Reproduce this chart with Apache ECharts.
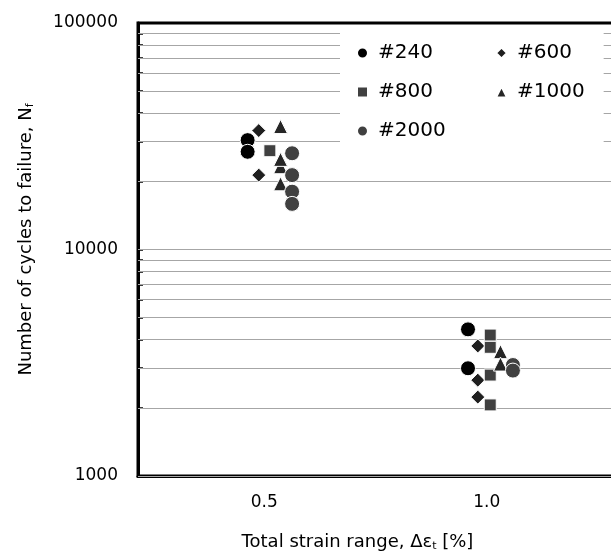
<!DOCTYPE html>
<html>
<head>
<meta charset="utf-8">
<script src="https://cdn.jsdelivr.net/npm/echarts@6/dist/echarts.min.js"></script>
<style>
html,body{margin:0;padding:0;background:#fff;}
#chart{width:611px;height:556px;}
</style>
</head>
<body>
<div id="chart"></div>
<script>
// grit sizes (legend names)
const grits = ['#240', '#600', '#800', '#1000', '#2000'];
// strain range [%] / cycles to failure
const s240 = [0.4625, 0.4625, 0.958, 0.958];
const n240 = [30400, 27000, 4440, 2990];
const s600 = [0.4875, 0.4875, 0.98, 0.98, 0.98];
const n600 = [33500, 21300, 3750, 2650, 2230];
const s800 = [0.5125, 1.008, 1.008, 1.008, 1.008];
const n800 = [27300, 4190, 3700, 2790, 2060];
const s1000 = [0.5365, 0.5365, 0.5365, 0.5365, 1.031, 1.031];
const n1000 = [34900, 23200, 25000, 19500, 3540, 3120];
const s2000 = [0.5625, 0.5625, 0.5625, 0.5625, 1.059, 1.059];
const n2000 = [26600, 21300, 18000, 15900, 3090, 2920];
// axis ticks
const xTicks = [0.5, 1.0];
const yTicks = [1000, 10000, 100000];
const gridVals = [1000, 2000, 3000, 4000, 5000, 6000, 7000, 8000, 9000,
  10000, 20000, 30000, 40000, 50000, 60000, 70000, 80000, 90000];

const font = 'DejaVu Sans';
const colors = ['#000000', '#1f1f1f', '#404040', '#262626', '#404040'];
const symbols = ['circle', 'diamond', 'rect', 'triangle', 'circle'];
const sizes = [15, 14, 12, 14, 15];
const xs = [s240, s600, s800, s1000, s2000];
const ys = [n240, n600, n800, n1000, n2000];

let chart = echarts.init(document.getElementById('chart'));

let series = grits.map((g, k) => ({
  name: g,
  type: 'scatter',
  symbol: symbols[k],
  symbolSize: sizes[k],
  itemStyle: { color: colors[k], borderColor: '#fff', borderWidth: 1, opacity: 1 },
  data: xs[k].map((x, i) => [x, ys[k][i]]),
  animation: false
}));

// horizontal gridlines at every 1..9 x 10^n
series[0].markLine = {
  silent: true,
  z: 1,
  symbol: 'none',
  animation: false,
  label: { show: false },
  emphasis: { disabled: true },
  lineStyle: { color: '#a6a6a6', width: 1, type: 'solid' },
  data: gridVals.map(v => ({ yAxis: v }))
};

const legendBase = {
  orient: 'vertical',
  itemWidth: 11,
  itemHeight: 11,
  itemGap: 19,
  textStyle: { fontFamily: font, fontSize: 20, color: '#000', lineHeight: 20, padding: [0, 0, 0, 5] }
};

chart.setOption({
  animation: false,
  grid: {
    left: 138, top: 23, right: -10, bottom: 80,
    show: true, borderColor: '#000', borderWidth: 3,
    outerBoundsMode: 'none'
  },
  legend: [
    Object.assign({}, legendBase, {
      data: ['#240', '#800', '#2000'],
      left: 340, top: 28,
      padding: [15, 158, 9, 16],
      backgroundColor: '#fff'
    }),
    Object.assign({}, legendBase, {
      data: ['#600', '#1000'],
      left: 495, top: 43,
      padding: 0
    })
  ],
  xAxis: {
    type: 'value',
    min: 0.216,
    max: 1.302,
    name: '{a|Total strain range, Δε}{sub|t}{a| [%]}',
    nameLocation: 'middle',
    nameGap: 56,
    nameTextStyle: {
      padding: [0, 44, 0, 0],
      rich: {
        a: { fontFamily: font, fontSize: 18, color: '#000' },
        sub: { fontFamily: font, fontSize: 11, color: '#000', padding: [9, 0, 0, 0] }
      }
    },
    axisLine: { lineStyle: { color: '#000', width: 3 } },
    axisTick: { show: false },
    splitLine: { show: false },
    axisLabel: {
      customValues: xTicks,
      formatter: v => v.toFixed(1),
      fontFamily: font, fontSize: 17, color: '#000', margin: 18
    }
  },
  yAxis: {
    type: 'log',
    logBase: 10,
    min: 1000,
    max: 100000,
    name: '{a|Number of cycles to failure, N}{sub|f}',
    nameLocation: 'middle',
    nameGap: 102,
    nameRotate: 90,
    nameTextStyle: {
      padding: [0, 0, 0, 20],
      rich: {
        a: { fontFamily: font, fontSize: 18, color: '#000' },
        sub: { fontFamily: font, fontSize: 11, color: '#000', padding: [9, 0, 0, 0] }
      }
    },
    axisLine: { lineStyle: { color: '#000', width: 3 } },
    axisTick: { inside: true, length: 5, customValues: gridVals, lineStyle: { color: '#000', width: 1.5 } },
    splitLine: { show: false },
    axisLabel: {
      customValues: yTicks,
      formatter: v => String(Math.round(v)),
      fontFamily: font, fontSize: 17, color: '#000', margin: 20
    }
  },
  series: series
});
</script>
</body>
</html>
